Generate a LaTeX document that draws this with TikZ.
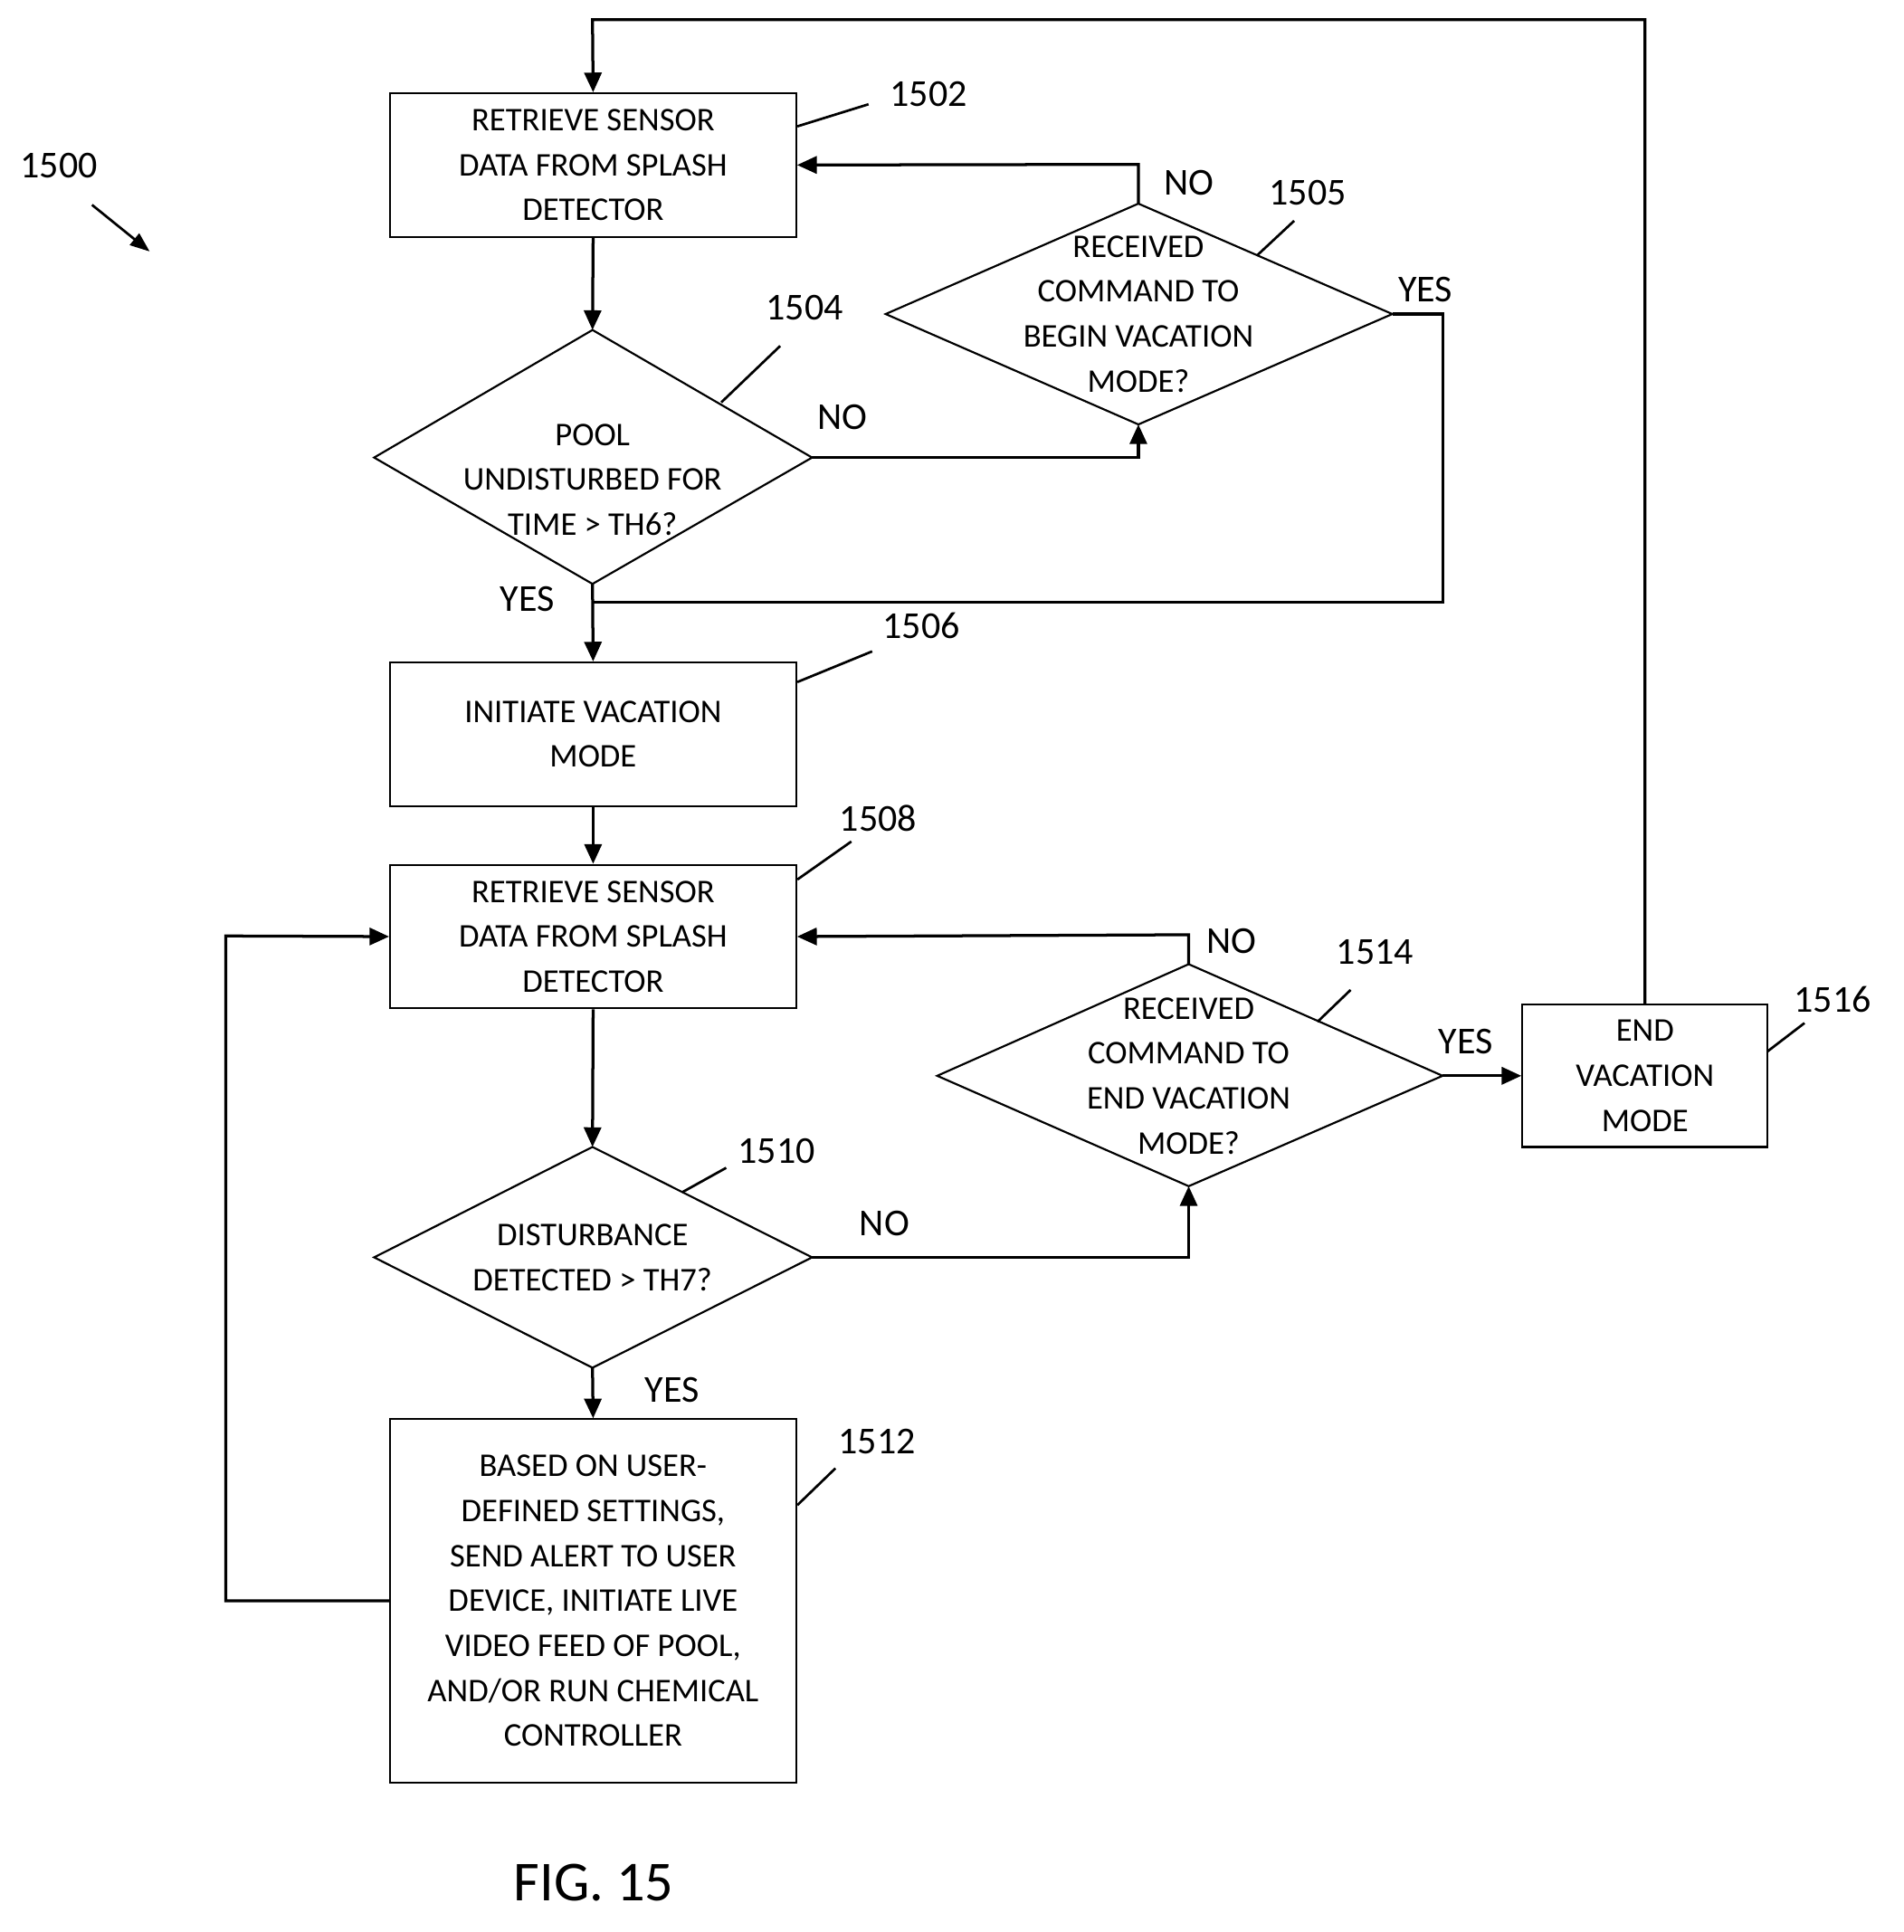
\documentclass[tikz,border=0pt]{standalone}
\usepackage{fontspec}
\setmainfont{Carlito}
\usetikzlibrary{arrows.meta}
\begin{document}
\begin{tikzpicture}[x=0.5pt,y=-0.5pt,
  box/.style={draw,line width=0.8pt,inner sep=0pt,align=center,font=\fontsize{13.5}{18.3}\selectfont},
  txt/.style={align=center,font=\fontsize{13.5}{18.3}\selectfont,inner sep=0pt},
  lbl/.style={font=\fontsize{15.5}{18}\selectfont,inner sep=0pt},
  ln/.style={line width=1.2pt},
  ar/.style={line width=1.2pt,-{Triangle[length=8pt,width=7pt]}}]
\useasboundingbox (0,0) rectangle (1552,1575);
% boxes
\node[box,minimum width=165.5pt,minimum height=58.5pt] (b1502) at (483.5,134.5) {RETRIEVE SENSOR\\DATA FROM SPLASH\\DETECTOR};
\node[box,minimum width=165.5pt,minimum height=58.5pt] (b1506) at (483.5,598.5) {INITIATE VACATION\\MODE};
\node[box,minimum width=165.5pt,minimum height=58.5pt] (b1508) at (483.5,763.5) {RETRIEVE SENSOR\\DATA FROM SPLASH\\DETECTOR};
\node[box,minimum width=100pt,minimum height=58pt] (b1516) at (1341,877) {END\\VACATION\\MODE};
\node[box,minimum width=165.5pt,minimum height=148pt] (b1512) at (483.5,1305) {BASED ON USER-\\DEFINED SETTINGS,\\SEND ALERT TO USER\\DEVICE, INITIATE LIVE\\VIDEO FEED OF POOL,\\AND/OR RUN CHEMICAL\\CONTROLLER};
% diamonds
\coordinate (d4t) at (483,269); \coordinate (d4b) at (483,476);
\coordinate (d4l) at (305,373); \coordinate (d4r) at (662,373);
\draw[line width=0.8pt] (d4t)--(d4r)--(d4b)--(d4l)--cycle;
\node[txt] (t1504) at (483,391) {POOL\\UNDISTURBED FOR\\TIME > TH6?};
\coordinate (d5t) at (928,166); \coordinate (d5b) at (928,346);
\coordinate (d5l) at (722,256); \coordinate (d5r) at (1135,256);
\draw[line width=0.8pt] (d5t)--(d5r)--(d5b)--(d5l)--cycle;
\node[txt] (t1505) at (928,256) {RECEIVED\\COMMAND TO\\BEGIN VACATION\\MODE?};
\coordinate (d10t) at (483,935); \coordinate (d10b) at (483,1115);
\coordinate (d10l) at (305,1025); \coordinate (d10r) at (662,1025);
\draw[line width=0.8pt] (d10t)--(d10r)--(d10b)--(d10l)--cycle;
\node[txt] (t1510) at (483,1025) {DISTURBANCE\\DETECTED > TH7?};
\coordinate (d14t) at (969,786); \coordinate (d14b) at (969,967);
\coordinate (d14l) at (764,877); \coordinate (d14r) at (1176,877);
\draw[line width=0.8pt] (d14t)--(d14r)--(d14b)--(d14l)--cycle;
\node[txt] (t1514) at (969,877) {RECEIVED\\COMMAND TO\\END VACATION\\MODE?};
% connectors
\draw[ar] (b1502.south) -- (d4t);
\draw[ar] (d4r) -- (928,373) -- (d5b);
\draw[ar] (d5t) -- (928,134) -- (b1502.east);
\draw[ln] (d5r) -- (1176,256) -- (1176,491) -- (483,491);
\draw[ar] (d4b) -- (b1506.north);
\draw[ar] (b1506.south) -- (b1508.north);
\draw[ar] (b1508.south) -- (d10t);
\draw[ar] (d10r) -- (969,1025) -- (d14b);
\draw[ar] (d14t) -- (969,762) -- (b1508.east);
\draw[ar] (d14r) -- (b1516.west);
\draw[ar] (b1516.north) -- (1341,16) -- (483,16) -- (b1502.north);
\draw[ar] (d10b) -- (b1512.north);
\draw[ar] (b1512.west) -- (184,1305) -- (184,763) -- (b1508.west);
% branch labels
\node[lbl] (n1) at (687,340) {NO};
\node[lbl] (n2) at (969,149) {NO};
\node[lbl] (y1) at (1162,236) {YES};
\node[lbl] (y2) at (430,488) {YES};
\node[lbl] (n3) at (721,997) {NO};
\node[lbl] (n4) at (1004,767) {NO};
\node[lbl] (y3) at (1195,849) {YES};
\node[lbl] (y4) at (548,1133) {YES};
% reference numerals
\node[lbl] (r1500) at (48,135) {1500};
\coordinate (a1) at (75,167); \coordinate (a2) at (122,205);
\draw[line width=1pt,-{Triangle[length=8pt,width=6pt]}] (a1) -- (a2);
\node[lbl] (r1502) at (757,77) {1502}; \draw[line width=1pt] (650,103) -- (708,85);
\node[lbl] (r1505) at (1066,157) {1505}; \draw[line width=1pt] (1025,208) -- (1055,180);
\node[lbl] (r1504) at (656,251) {1504}; \draw[line width=1pt] (588,328) -- (636,282);
\node[lbl] (r1506) at (751,510) {1506}; \draw[line width=1pt] (650,556) -- (711,531);
\node[lbl] (r1508) at (716,667) {1508}; \draw[line width=1pt] (650,717) -- (694,686);
\node[lbl] (r1514) at (1121,776) {1514}; \draw[line width=1pt] (1074,833) -- (1101,807);
\node[lbl] (r1516) at (1494,815) {1516}; \draw[line width=1pt] (1441,857) -- (1471,834);
\node[lbl] (r1510) at (633,938) {1510}; \draw[line width=1pt] (556,972) -- (592,952);
\node[lbl] (r1512) at (715,1175) {1512}; \draw[line width=1pt] (650,1227) -- (681,1197);
\node[font=\fontsize{23}{26}\selectfont,inner sep=0pt] (fig) at (484,1535) {FIG. 15};
\end{tikzpicture}
\end{document}
